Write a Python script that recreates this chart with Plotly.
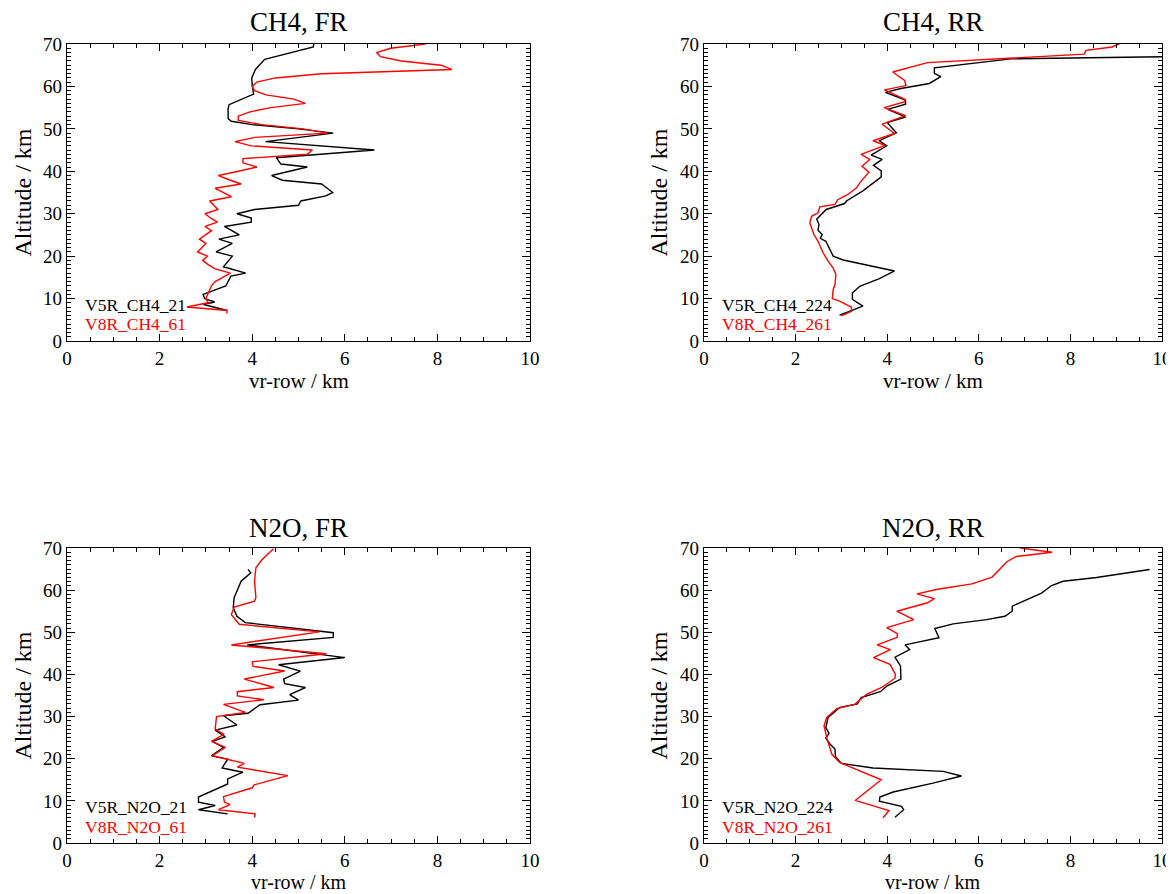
import plotly.graph_objects as go

# ---------------- data (altitude in km, vr-row in km) ----------------
ch4_fr_v5_alt = [70.0, 69.3, 66.4, 64.0, 62.0, 60.3, 58.2, 56.5, 55.7, 54.8, 52.4, 51.8, 51.0, 50.0, 49.0, 47.0,
                 45.0, 43.2, 41.7, 41.0, 39.0, 37.9, 37.0, 35.0, 34.2, 33.0, 32.0, 31.0, 30.0, 29.0, 28.0,
                 27.0, 25.0, 24.0, 23.0, 21.0, 20.0, 17.5, 16.0, 15.3, 13.0, 11.0, 10.0, 9.2, 8.6, 7.2]
ch4_fr_v5_vr = [5.33, 5.32, 4.27, 4.07, 3.99, 4.0, 4.03, 3.65, 3.5, 3.48, 3.48, 3.55, 4.0, 5.0, 5.75, 4.29,
                6.64, 4.52, 4.62, 5.19, 4.42, 4.65, 5.5, 5.74, 5.59, 5.05, 5.0, 4.05, 3.67, 3.98, 3.98,
                3.4, 3.72, 3.28, 3.57, 3.22, 3.57, 3.38, 3.86, 3.54, 3.43, 2.94, 2.97, 3.19, 2.95, 3.46]

ch4_fr_v8_alt = [70, 69, 68, 67, 66, 65, 64, 63, 62, 61, 60, 59, 58, 57, 56, 55, 54, 53, 52, 51, 50, 49, 48,
                 47, 46, 45, 44, 43, 42, 41, 40, 39, 38, 37, 36, 35, 34, 33, 32, 31, 30, 29, 28, 27, 26,
                 25, 24, 23, 22, 21, 20, 19, 18, 17, 16, 15, 14, 13, 12, 11, 10, 9, 8, 7.2, 6.5]
ch4_fr_v8_vr = [7.74, 6.99, 6.69, 6.77, 7.22, 8.08, 8.31, 5.5, 4.5, 4.1, 4.0, 4.05, 4.3, 4.9, 5.15, 4.4,
                3.95, 3.7, 3.7, 4.2, 5.1, 5.62, 4.06, 3.63, 3.98, 5.3, 5.19, 3.8, 3.8, 4.1, 3.7, 3.27,
                3.5, 3.76, 3.2, 3.38, 3.55, 3.08, 3.18, 3.26, 2.98, 3.1, 3.25, 2.98, 3.12, 3.0, 2.86,
                3.0, 2.9, 2.82, 3.03, 2.93, 3.05, 3.2, 3.53, 3.35, 3.2, 3.12, 3.08, 3.05, 3.0, 3.05,
                2.59, 3.46, 3.45]

ch4_rr_v5_alt = [67.3, 66.5, 64.4, 63.1, 62.3, 60.7, 59.5, 58.6, 56.8, 55.8, 54.6, 52.8, 51.5, 49.1, 47.2,
                 46.0, 43.8, 42.8, 41.4, 40.1, 38.7, 36.9, 35.4, 33.0, 32.4, 31.0, 29.8, 28.7, 27.5, 26.1,
                 25.1, 24.2, 23.5, 21.2, 20.0, 19.1, 16.5, 14.7, 12.9, 11.3, 9.8, 8.2, 6.1]
ch4_rr_v5_vr = [12.0, 6.7, 5.03, 5.03, 5.17, 4.92, 4.3, 3.96, 4.4, 4.4, 4.01, 4.4, 4.0, 4.2, 3.83,
                3.99, 3.65, 3.89, 3.7, 3.87, 3.87, 3.65, 3.47, 3.11, 3.07, 2.67, 2.57, 2.46, 2.51, 2.49,
                2.58, 2.54, 2.66, 2.77, 2.82, 3.04, 4.16, 3.83, 3.4, 3.24, 3.24, 3.47, 2.96]

ch4_rr_v8_alt = [70.2, 69.3, 68.5, 67.6, 65.6, 63.4, 61.4, 60.2, 59.2, 57.0, 56.4, 55.0, 53.1, 51.1, 48.9,
                 47.2, 46.1, 44.0, 42.8, 41.2, 39.8, 37.4, 36.1, 34.6, 33.3, 32.2, 31.6, 30.2, 29.4, 27.9,
                 25.1, 23.5, 20.8, 18.8, 17.2, 15.7, 13.3, 12.1, 10.0, 9.4, 8.0, 7.0, 5.9]
ch4_rr_v8_vr = [9.1, 8.91, 8.34, 8.3, 4.88, 4.12, 4.38, 4.41, 3.94, 4.38, 4.39, 3.93, 4.4, 3.89, 4.16,
                3.69, 3.95, 3.43, 3.62, 3.45, 3.6, 3.41, 3.33, 3.15, 2.92, 2.86, 2.53, 2.49, 2.35, 2.31,
                2.4, 2.49, 2.6, 2.71, 2.82, 2.88, 2.86, 2.82, 2.8, 2.96, 3.22, 3.22, 3.0]

n2o_fr_v5_alt = [64.9, 64.1, 62.1, 58.2, 55.8, 53.8, 52.3, 49.9, 48.8, 47.0, 44.0, 42.3, 40.8, 38.9, 37.8,
                 36.9, 35.2, 33.9, 32.8, 30.8, 30.2, 28.0, 26.8, 25.2, 24.1, 22.7, 20.7, 19.9, 17.8, 16.8,
                 15.2, 14.0, 10.9, 9.7, 8.9, 7.9, 6.9]
n2o_fr_v5_vr = [3.91, 3.97, 3.76, 3.61, 3.59, 3.67, 3.85, 5.75, 5.75, 3.89, 6.0, 4.57, 5.04, 4.68, 4.7,
                5.15, 4.81, 5.0, 4.17, 3.91, 3.38, 3.67, 3.2, 3.42, 3.14, 3.38, 3.12, 3.47, 3.35, 3.8,
                3.47, 3.47, 2.84, 2.84, 3.2, 2.84, 3.47]

n2o_fr_v8_alt = [69.8, 67.2, 65.3, 62.1, 58.2, 57.4, 56.0, 54.2, 51.9, 50.1, 47.0, 44.9, 43.0, 41.9, 40.8,
                 38.9, 36.9, 35.9, 34.9, 34.0, 32.9, 31.0, 30.0, 27.0, 25.8, 24.1, 22.7, 20.7, 18.9, 18.0,
                 16.0, 13.8, 13.1, 11.0, 9.7, 9.1, 7.9, 6.9, 6.1]
n2o_fr_v8_vr = [4.46, 4.21, 4.08, 4.05, 4.08, 4.05, 3.61, 3.55, 3.72, 5.45, 3.55, 5.6, 4.0, 4.02, 4.7,
                3.83, 4.47, 3.68, 3.68, 4.25, 3.38, 3.85, 3.23, 3.2, 3.39, 3.12, 3.42, 3.14, 3.83, 3.68,
                4.77, 4.04, 4.0, 3.38, 3.4, 3.52, 3.27, 4.06, 4.05]

n2o_rr_v5_alt = [64.9, 63.0, 62.1, 61.1, 59.3, 57.0, 56.2, 55.0, 53.8, 53.0, 52.0, 50.9, 48.7, 47.0, 45.9,
                 44.1, 42.0, 38.9, 37.3, 35.9, 34.5, 33.0, 32.2, 29.8, 27.4, 26.0, 24.9, 23.5, 22.3, 20.5,
                 18.9, 17.8, 17.0, 15.9, 14.2, 12.1, 10.9, 9.9, 8.7, 7.9, 6.1]
n2o_rr_v5_vr = [9.73, 8.57, 7.84, 7.59, 7.37, 6.89, 6.73, 6.73, 6.57, 6.17, 5.44, 5.04, 5.13, 4.39, 4.49,
                4.17, 4.29, 4.3, 4.0, 3.85, 3.43, 3.35, 2.97, 2.71, 2.66, 2.73, 2.66, 2.75, 2.86, 2.87,
                3.0, 3.69, 5.22, 5.62, 5.0, 4.13, 3.84, 3.83, 4.31, 4.36, 4.17]

n2o_rr_v8_alt = [70.0, 69.0, 68.0, 66.8, 63.1, 61.5, 60.2, 59.1, 58.0, 57.0, 55.0, 53.0, 51.1, 49.7, 48.8,
                 47.0, 45.9, 44.0, 42.4, 40.0, 39.1, 36.9, 35.3, 32.9, 31.9, 29.8, 27.8, 25.0, 21.1, 19.1,
                 15.0, 10.1, 7.7, 6.0]
n2o_rr_v8_vr = [6.9, 7.6, 6.82, 6.62, 6.29, 5.85, 5.1, 4.65, 5.03, 4.88, 4.21, 4.58, 3.99, 4.22, 4.22,
                3.78, 4.07, 3.7, 4.06, 4.18, 4.17, 3.88, 3.55, 3.29, 2.9, 2.68, 2.62, 2.68, 2.79, 2.96,
                3.87, 3.3, 4.04, 3.91]

titles = ["CH4, FR", "CH4, RR", "N2O, FR", "N2O, RR"]
labels_v5 = ["V5R_CH4_21", "V5R_CH4_224", "V5R_N2O_21", "V5R_N2O_224"]
labels_v8 = ["V8R_CH4_61", "V8R_CH4_261", "V8R_N2O_61", "V8R_N2O_261"]
x_title = "vr-row / km"
y_title = "Altitude / km"

panels = [
    (ch4_fr_v5_alt, ch4_fr_v5_vr, ch4_fr_v8_alt, ch4_fr_v8_vr),
    (ch4_rr_v5_alt, ch4_rr_v5_vr, ch4_rr_v8_alt, ch4_rr_v8_vr),
    (n2o_fr_v5_alt, n2o_fr_v5_vr, n2o_fr_v8_alt, n2o_fr_v8_vr),
    (n2o_rr_v5_alt, n2o_rr_v5_vr, n2o_rr_v8_alt, n2o_rr_v8_vr),
]

# ---------------- layout geometry ----------------
# the page body has an 8px margin, so the figure is 8px smaller and positions are shifted by 8px
OFF = 8
W, H = 1174 - OFF, 894 - OFF
FONT = "Liberation Serif"


def px(x):
    return (x - OFF) / W


def py(y):
    return 1 - (y - OFF) / H


x_doms = [[px(67), px(530)], [px(704), px(1162)]]
y_doms = [[py(341), py(44)], [py(843), py(548)]]

fig = go.Figure()
layout = dict(
    template="none",
    width=W, height=H, margin=dict(l=0, r=0, t=0, b=0, pad=0),
    paper_bgcolor="white", plot_bgcolor="white", showlegend=False,
    font=dict(family=FONT, color="black"),
)
annotations = []

for i, (a5, v5, a8, v8) in enumerate(panels):
    row, col = divmod(i, 2)
    xa = "x" if i == 0 else f"x{i+1}"
    ya = "y" if i == 0 else f"y{i+1}"
    fig.add_trace(go.Scatter(x=v5, y=a5, mode="lines", line=dict(color="black", width=1.4),
                             xaxis=xa, yaxis=ya, name=labels_v5[i]))
    fig.add_trace(go.Scatter(x=v8, y=a8, mode="lines", line=dict(color="#ff0000", width=1.4),
                             xaxis=xa, yaxis=ya, name=labels_v8[i]))
    xkey = "xaxis" if i == 0 else f"xaxis{i+1}"
    ykey = "yaxis" if i == 0 else f"yaxis{i+1}"
    layout[xkey] = dict(
        domain=x_doms[col], anchor=ya, range=[0, 10], tick0=0, dtick=2, automargin=False,
        ticks="inside", ticklen=7, tickwidth=1, tickcolor="black",
        minor=dict(dtick=0.5, ticks="inside", ticklen=4, tickwidth=1, tickcolor="black", showgrid=False),
        showline=True, linecolor="black", linewidth=1.2, mirror="ticks",
        showgrid=False, zeroline=False, tickfont=dict(family=FONT, size=19, color="black"),
    )
    layout[ykey] = dict(
        domain=y_doms[row], anchor=xa, range=[0, 70], tick0=0, dtick=10, automargin=False,
        ticks="inside", ticklen=8, tickwidth=1, tickcolor="black",
        minor=dict(dtick=1, ticks="inside", ticklen=4, tickwidth=1, tickcolor="black", showgrid=False),
        showline=True, linecolor="black", linewidth=1.2, mirror="ticks",
        showgrid=False, zeroline=False, tickfont=dict(family=FONT, size=19, color="black"),
    )
    xc = (x_doms[col][0] + x_doms[col][1]) / 2
    title_y = [py(22), py(528)][row]
    yt_x = [px(22), px(658)][col]
    yc = (y_doms[row][0] + y_doms[row][1]) / 2
    annotations.append(dict(text=titles[i], x=xc, y=title_y, xref="paper", yref="paper",
                            showarrow=False, font=dict(family=FONT, size=27, color="black"),
                            xanchor="center", yanchor="middle"))
    if row == 0:
        annotations.append(dict(text=x_title, x=xc, y=py(381), xref="paper", yref="paper",
                                showarrow=False, font=dict(family=FONT, size=21, color="black"),
                                xanchor="center", yanchor="middle"))
    else:
        annotations.append(dict(text=x_title, x=xc, y=0, xref="paper", yref="paper",
                                showarrow=False, font=dict(family=FONT, size=20, color="black"),
                                xanchor="center", yanchor="bottom", borderpad=0))
    annotations.append(dict(text=y_title, x=yt_x, y=yc, xref="paper", yref="paper", textangle=-90,
                            showarrow=False, font=dict(family=FONT, size=24, color="black"),
                            xanchor="center", yanchor="middle"))
    annotations.append(dict(text=labels_v5[i], x=0.35, y=8.6, xref=xa, yref=ya,
                            showarrow=False, font=dict(family=FONT, size=17.5, color="black"),
                            xanchor="left", yanchor="middle"))
    annotations.append(dict(text=labels_v8[i], x=0.35, y=3.9, xref=xa, yref=ya,
                            showarrow=False, font=dict(family=FONT, size=17.5, color="#ff0000"),
                            xanchor="left", yanchor="middle"))

layout["annotations"] = annotations
fig.update_layout(**layout)
fig.write_html("out.html")
